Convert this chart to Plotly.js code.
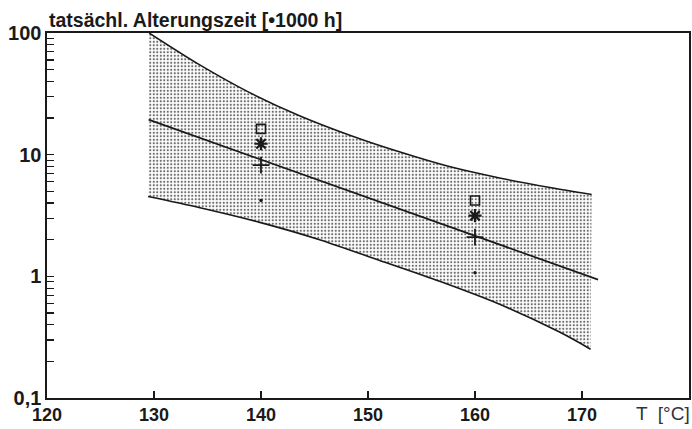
<!DOCTYPE html>
<html>
<head>
<meta charset="utf-8">
<script src="https://cdn.plot.ly/plotly-3.0.1.min.js"></script>
<style>html,body{margin:0;padding:0;background:#fff;}#chart{width:692px;height:429px;}</style>
</head>
<body>
<div id="chart"></div>
<script>
// Confidence band (upper and lower limits)
var upperT = [129.55, 134.2, 138.9, 143.6, 148.3, 153.0, 157.6, 162.3, 167.0, 170.9];
var upperH = [100, 55.2, 32.5, 20.9, 14.45, 10.5, 7.98, 6.43, 5.37, 4.70];
var lowerT = [129.45, 134.2, 139.8, 145.4, 151.1, 156.7, 162.3, 167.9, 170.8];
var lowerH = [4.53, 3.68, 2.79, 2.01, 1.35, 0.91, 0.589, 0.348, 0.252];
// Regression line
var lineT = [129.5, 171.5];
var lineH = [19.4, 0.94];
// Measured points
var pointT = [140, 160];
var squareH = [16.3, 4.2];
var starH = [12.3, 3.15];
var plusH = [8.2, 2.1];
var dotH = [4.2, 1.07];
// Tick labels
var xTicks = [120, 130, 140, 150, 160, 170];
var yTicks = [0.1, 1, 10, 100];
var yTickText = ['0,1', '1', '10', '100'];
var yMinor = [];
[0.1, 1, 10].forEach(function (d) { for (var k = 2; k <= 9; k++) yMinor.push(d * k); });

var bandX = upperT.concat(lowerT.slice().reverse());
var bandY = upperH.concat(lowerH.slice().reverse());

var ink = '#1a1a1a';
var traces = [
  {x: bandX, y: bandY, mode: 'lines', fill: 'toself', line: {width: 0},
   fillcolor: 'rgba(0,0,0,0)',
   fillpattern: {shape: '.', size: 3.5, solidity: 0.3, fgcolor: '#6a6a6a', bgcolor: '#fff'},
   hoverinfo: 'skip'},
  {x: upperT, y: upperH, mode: 'lines', line: {color: ink, width: 1.5, shape: 'spline', smoothing: 0.8}},
  {x: lowerT, y: lowerH, mode: 'lines', line: {color: ink, width: 1.7, shape: 'spline', smoothing: 0.8}},
  {x: lineT, y: lineH, mode: 'lines', line: {color: ink, width: 1.7}},
  {x: pointT, y: squareH, mode: 'markers', marker: {symbol: 'square-open', size: 9, color: ink, line: {width: 1.6, color: ink}}},
  {x: pointT, y: starH, mode: 'markers', marker: {symbol: 'asterisk-open', size: 11, color: ink, line: {width: 2.2, color: ink}}},
  {x: pointT, y: plusH, mode: 'markers', marker: {symbol: 'cross-thin-open', size: 12, color: ink, line: {width: 1.8, color: ink}}},
  {x: pointT, y: dotH, mode: 'markers', marker: {symbol: 'circle', size: 3.5, color: ink}}
];

var xFont = {family: 'Liberation Sans, Arial, sans-serif', size: 18, color: ink, weight: 'bold'};
var yFont = {family: 'Liberation Sans, Arial, sans-serif', size: 20, color: ink, weight: 'bold'};
var layout = {
  width: 692, height: 429,
  margin: {l: 47, r: 3, t: 33, b: 31},
  paper_bgcolor: '#fff', plot_bgcolor: '#fff',
  showlegend: false,
  xaxis: {
    range: [120, 180], tickmode: 'array', tickvals: xTicks,
    ticks: 'inside', ticklen: 7, tickwidth: 1.2, tickcolor: ink,
    showline: true, mirror: true, linecolor: ink, linewidth: 1.6,
    showgrid: false, zeroline: false, tickfont: xFont
  },
  yaxis: {
    type: 'log', range: [-1, 2], tickmode: 'array', tickvals: yTicks, ticktext: yTickText,
    ticks: 'inside', ticklen: 7, tickwidth: 1.2, tickcolor: ink,
    minor: {tickmode: 'array', tickvals: yMinor, ticks: 'inside', ticklen: 7, tickwidth: 1.2, tickcolor: ink, showgrid: false},
    showline: true, mirror: true, linecolor: ink, linewidth: 1.6,
    showgrid: false, zeroline: false, tickfont: yFont
  },
  annotations: [
    {text: 'tatsächl. Alterungszeit [•1000 h]', xref: 'paper', yref: 'paper', x: 0, y: 1,
     xanchor: 'left', yanchor: 'bottom', yshift: 0, showarrow: false,
     font: {family: 'Liberation Sans, Arial, sans-serif', size: 19.5, color: ink, weight: 'bold'}},
    {text: 'T  [°C]', xref: 'paper', yref: 'paper', x: 1, y: 0,
     xanchor: 'right', yanchor: 'top', yshift: -3, xshift: 3, showarrow: false,
     font: {family: 'Liberation Sans, Arial, sans-serif', size: 19, color: '#333'}}
  ]
};

Plotly.newPlot('chart', traces, layout, {staticPlot: true, displayModeBar: false});
</script>
</body>
</html>
